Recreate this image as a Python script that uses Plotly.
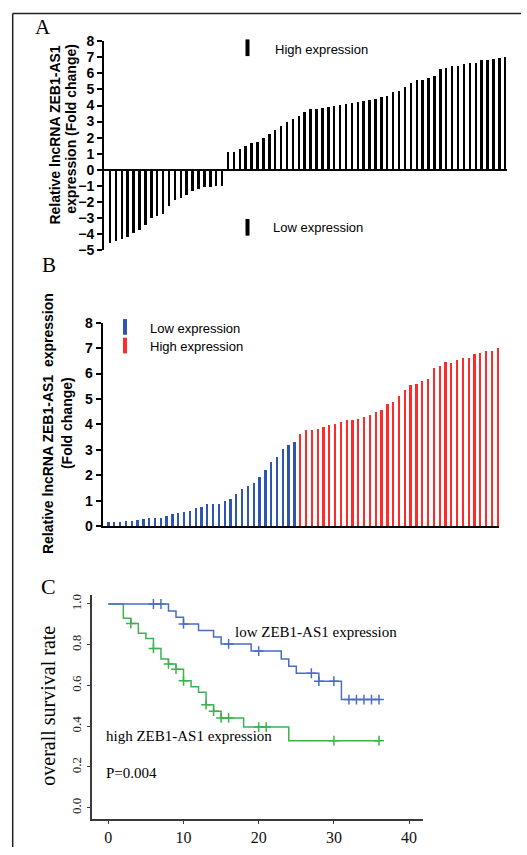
import plotly.graph_objects as go

W, H = 527, 855

# ---------------- data ----------------
samples = list(range(1, 69))

# Panel A: relative expression (fold change), low group shown as negative
a_low = [-4.62, -4.48, -4.32, -4.2, -3.95, -3.76, -3.5, -3.05, -2.93, -2.8,
         -2.31, -1.94, -1.8, -1.57, -1.33, -1.25, -1.12, -1.08, -1.06, -1.06]
a_high = [1.05, 1.1, 1.26, 1.44, 1.62, 1.7, 1.93, 2.2, 2.47, 2.72, 2.96, 3.12, 3.3,
          3.6, 3.77, 3.79, 3.83, 3.9, 3.95, 4.02, 4.08, 4.16, 4.18, 4.24, 4.3,
          4.39, 4.5, 4.59, 4.81, 4.9, 5.13, 5.36, 5.55, 5.59, 5.71, 5.8, 6.25,
          6.31, 6.46, 6.44, 6.55, 6.64, 6.61, 6.79, 6.82, 6.89, 6.91, 7.0]

# Panel B
b_low = [0.19, 0.19, 0.19, 0.21, 0.23, 0.24, 0.3, 0.32, 0.32, 0.35, 0.41, 0.49,
         0.52, 0.55, 0.59, 0.72, 0.76, 0.89, 0.9, 0.9, 1.0, 1.07, 1.26, 1.46,
         1.6, 1.7, 1.95, 2.23, 2.53, 2.74, 3.03, 3.21, 3.32]
b_high = [3.62, 3.79, 3.8, 3.85, 3.92, 3.97, 4.03, 4.1, 4.18, 4.19, 4.24, 4.3,
          4.39, 4.5, 4.59, 4.81, 4.9, 5.13, 5.36, 5.55, 5.59, 5.71, 5.8, 6.25,
          6.31, 6.46, 6.44, 6.55, 6.64, 6.61, 6.79, 6.82, 6.89, 6.91, 7.02]

# Panel C: Kaplan-Meier
low_t = [0, 8, 9, 10, 12, 14, 15, 19, 23, 24, 25, 28, 31, 36]
low_s = [1.0, 0.966, 0.935, 0.902, 0.87, 0.838, 0.804, 0.769, 0.73, 0.695, 0.66, 0.621, 0.531, 0.531]
low_cens = [6, 7, 10, 16, 20, 27, 28, 30, 32, 33, 34, 35, 36]

high_t = [0, 2, 3, 4, 5, 6, 7, 8, 9, 10, 11, 12, 13, 14, 15, 18, 24, 36]
high_s = [1.0, 0.93, 0.904, 0.856, 0.83, 0.782, 0.73, 0.706, 0.68, 0.623, 0.594,
          0.567, 0.506, 0.474, 0.441, 0.396, 0.329, 0.329]
high_cens = [3, 6, 8, 9, 10, 13, 14, 15, 16, 20, 21, 30, 36]

yticks_a = list(range(-5, 9))
yticks_b = list(range(0, 9))
yticks_c = [0.0, 0.2, 0.4, 0.6, 0.8, 1.0]
xticks_c = [0, 10, 20, 30, 40]


def step_value(ts, ss, t):
    v = ss[0]
    for ti, si in zip(ts, ss):
        if ti <= t:
            v = si
    return v


def fx(px):
    return px / W


def fy(py):
    return 1 - py / H


SANS = "Liberation Sans"
SERIF = "Liberation Serif"
BLUE_BAR = "#2d56b3"
RED_BAR = "#ff2b2b"
KM_BLUE = "#4a6dc4"
KM_GREEN = "#3db24f"

fig = go.Figure()

# Panel A bars
idx = list(range(len(samples)))
a_vals = a_low + a_high
fig.add_trace(go.Bar(x=idx, y=a_vals, width=0.42, marker=dict(color="black", line=dict(width=0)),
                     xaxis="x", yaxis="y", showlegend=False))

# Panel B bars
n_low = len(b_low)
fig.add_trace(go.Bar(x=idx[:n_low], y=b_low, width=0.4, marker=dict(color=BLUE_BAR, line=dict(width=0)),
                     xaxis="x2", yaxis="y2", showlegend=False))
fig.add_trace(go.Bar(x=idx[n_low:], y=b_high, width=0.4, marker=dict(color=RED_BAR, line=dict(width=0)),
                     xaxis="x2", yaxis="y2", showlegend=False))

# Panel C KM curves
fig.add_trace(go.Scatter(x=high_t, y=high_s, mode="lines", line=dict(color=KM_GREEN, width=1.5, shape="hv"),
                         xaxis="x3", yaxis="y3", showlegend=False))
fig.add_trace(go.Scatter(x=low_t, y=low_s, mode="lines", line=dict(color=KM_BLUE, width=1.5, shape="hv"),
                         xaxis="x3", yaxis="y3", showlegend=False))
fig.add_trace(go.Scatter(x=high_cens, y=[step_value(high_t, high_s, t) for t in high_cens], mode="markers",
                         marker=dict(symbol="cross-thin", size=7, line=dict(color=KM_GREEN, width=1.5)),
                         xaxis="x3", yaxis="y3", showlegend=False))
fig.add_trace(go.Scatter(x=low_cens, y=[step_value(low_t, low_s, t) for t in low_cens], mode="markers",
                         marker=dict(symbol="cross-thin", size=7, line=dict(color=KM_BLUE, width=1.5)),
                         xaxis="x3", yaxis="y3", showlegend=False))

axis_hidden = dict(showline=False, showticklabels=False, ticks="", showgrid=False, zeroline=False)

fig.update_layout(
    width=W, height=H,
    margin=dict(l=0, r=0, t=0, b=0),
    paper_bgcolor="white", plot_bgcolor="rgba(0,0,0,0)",
    bargap=0,
    xaxis=dict(domain=[fx(104), fx(507)], range=[-1.02, 67.3], anchor="y", **axis_hidden),
    yaxis=dict(domain=[fy(246.5), fy(34)], range=[-5, 8], anchor="x", tickvals=yticks_a,
               showline=True, linecolor="black", linewidth=2, ticks="outside", ticklen=5,
               tickwidth=2, tickcolor="black", showgrid=False, zeroline=True,
               zerolinecolor="black", zerolinewidth=2,
               tickfont=dict(family=SANS, size=14, color="black", weight="bold")),
    xaxis2=dict(domain=[fx(102.5), fx(499)], range=[-0.95, 67.3], anchor="y2",
                showline=True, linecolor="black", linewidth=2, showticklabels=False, ticks="",
                showgrid=False, zeroline=False),
    yaxis2=dict(domain=[fy(528), fy(320.7)], range=[0, 8], anchor="x2", tickvals=yticks_b,
                showline=True, linecolor="black", linewidth=2, ticks="outside", ticklen=5,
                tickwidth=2, tickcolor="black", showgrid=False, zeroline=False,
                tickfont=dict(family=SANS, size=14, color="black", weight="bold")),
    xaxis3=dict(domain=[fx(92.3), fx(423)], range=[-2.13, 41.85], anchor="y3", tickvals=xticks_c,
                showline=True, linecolor="#3a3a3a", linewidth=1.5, ticks="outside", ticklen=4,
                tickwidth=1, tickcolor="#3a3a3a", showgrid=False, zeroline=False,
                tickfont=dict(family=SERIF, size=16, color="#111")),
    yaxis3=dict(domain=[fy(826), fy(598)], range=[-0.053, 1.045], anchor="x3", tickvals=yticks_c,
                tickformat=".1f", tickangle=-90,
                showline=True, linecolor="#3a3a3a", linewidth=1.5, ticks="outside", ticklen=4,
                tickwidth=1, tickcolor="#3a3a3a", showgrid=False, zeroline=False,
                tickfont=dict(family=SERIF, size=13, color="#222")),
)

ann = []


def add_text(text, x, y, size, family=SANS, weight="normal", angle=0, xanchor="left", color="black"):
    ann.append(dict(text=text, x=fx(x), y=fy(y), xref="paper", yref="paper", showarrow=False,
                    xanchor=xanchor, yanchor="middle", textangle=angle,
                    font=dict(family=family, size=size, color=color, weight=weight)))


# panel labels
add_text("A", 43, 19, 21, family=SERIF, xanchor="center")
add_text("B", 49, 262, 21, family=SERIF, xanchor="center")
add_text("C", 48, 590, 22, family=SERIF, xanchor="center")

# panel A titles/legend
add_text("Relative lncRNA ZEB1-AS1", 55, 130, 14, weight="bold", angle=-90, xanchor="center")
add_text("expression (Fold change)", 71, 123, 14, weight="bold", angle=-90, xanchor="center")
add_text("High expression", 273, 42, 13)
add_text("Low expression", 271, 224, 13)

# panel B
add_text("Relative lncRNA ZEB1-AS1  expression", 48, 424, 14, weight="bold", angle=-90, xanchor="center")
add_text("(Fold change)", 67, 423, 14, weight="bold", angle=-90, xanchor="center")
add_text("Low expression", 148, 326.5, 13)
add_text("High expression", 148, 345, 13)

# panel C
add_text("overall survival rate", 48, 711, 20, family=SERIF, angle=-90, xanchor="center")
add_text("low ZEB1-AS1 expression", 233, 636, 15, family=SERIF)
add_text("high ZEB1-AS1 expression", 104, 742, 15, family=SERIF)
add_text("P=0.004", 104, 780, 15, family=SERIF)

fig.update_layout(annotations=ann)

shapes = [
    # figure frame
    dict(type="line", xref="paper", yref="paper", x0=fx(12.7), x1=fx(12.7), y0=fy(5.5), y1=fy(855),
         line=dict(color="#222", width=1.5)),
    dict(type="line", xref="paper", yref="paper", x0=fx(12.7), x1=fx(521), y0=fy(5.5), y1=fy(5.5),
         line=dict(color="#222", width=1.5)),
    # legend swatches
    dict(type="rect", xref="paper", yref="paper", x0=fx(245.5), x1=fx(249.5), y0=fy(49), y1=fy(32),
         fillcolor="black", line=dict(width=0)),
    dict(type="rect", xref="paper", yref="paper", x0=fx(245.5), x1=fx(249.5), y0=fy(232), y1=fy(215),
         fillcolor="black", line=dict(width=0)),
    dict(type="rect", xref="paper", yref="paper", x0=fx(123), x1=fx(127), y0=fy(333), y1=fy(317),
         fillcolor=BLUE_BAR, line=dict(width=0)),
    dict(type="rect", xref="paper", yref="paper", x0=fx(123), x1=fx(127), y0=fy(352), y1=fy(336),
         fillcolor=RED_BAR, line=dict(width=0)),
]
fig.update_layout(shapes=shapes)

fig.write_html(
    "out.html",
    config={"displayModeBar": False},
    post_script="document.body.style.margin='0';document.body.style.overflow='hidden';",
)
